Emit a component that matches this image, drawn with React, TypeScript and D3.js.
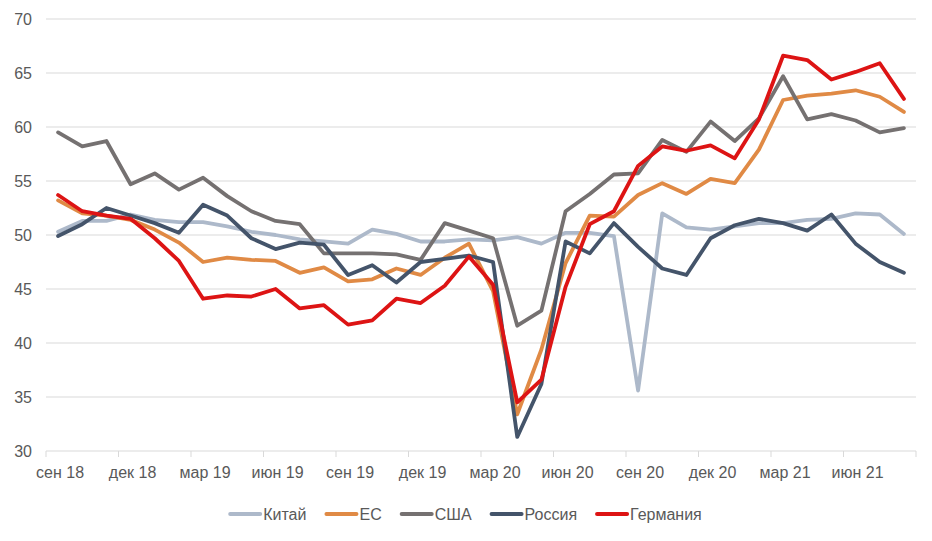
import React, { useEffect, useRef } from "react";
import * as d3 from "d3";

const months = [
  "сен 18", "окт 18", "ноя 18", "дек 18", "янв 19", "фев 19", "мар 19", "апр 19", "май 19",
  "июн 19", "июл 19", "авг 19", "сен 19", "окт 19", "ноя 19", "дек 19", "янв 20", "фев 20",
  "мар 20", "апр 20", "май 20", "июн 20", "июл 20", "авг 20", "сен 20", "окт 20", "ноя 20",
  "дек 20", "янв 21", "фев 21", "мар 21", "апр 21", "май 21", "июн 21", "июл 21", "авг 21",
];

const china = [
  50.3, 51.3, 51.3, 51.9, 51.4, 51.2, 51.2, 50.8, 50.3, 50.0, 49.6, 49.4, 49.2, 50.5, 50.1, 49.4, 49.4, 49.6,
  49.5, 49.8, 49.2, 50.2, 50.2, 49.9, 35.6, 52.0, 50.7, 50.5, 50.8, 51.1, 51.1, 51.4, 51.5, 52.0, 51.9, 50.1,
];
const eu = [
  53.2, 52.0, 51.8, 51.4, 50.5, 49.3, 47.5, 47.9, 47.7, 47.6, 46.5, 47.0, 45.7, 45.9, 46.9, 46.3, 47.9, 49.2,
  44.8, 33.4, 39.4, 47.4, 51.8, 51.7, 53.7, 54.8, 53.8, 55.2, 54.8, 57.9, 62.5, 62.9, 63.1, 63.4, 62.8, 61.4,
];
const usa = [
  59.5, 58.2, 58.7, 54.7, 55.7, 54.2, 55.3, 53.6, 52.2, 51.3, 51.0, 48.3, 48.3, 48.3, 48.2, 47.7, 51.1, 50.4,
  49.7, 41.6, 43.0, 52.2, 53.8, 55.6, 55.7, 58.8, 57.7, 60.5, 58.7, 60.8, 64.7, 60.7, 61.2, 60.6, 59.5, 59.9,
];
const russia = [
  49.9, 51.0, 52.5, 51.8, 51.1, 50.2, 52.8, 51.8, 49.7, 48.7, 49.3, 49.1, 46.3, 47.2, 45.6, 47.5, 47.8, 48.1,
  47.5, 31.3, 36.2, 49.4, 48.3, 51.1, 48.9, 46.9, 46.3, 49.7, 50.9, 51.5, 51.1, 50.4, 51.9, 49.2, 47.5, 46.5,
];
const germany = [
  53.7, 52.2, 51.8, 51.5, 49.7, 47.6, 44.1, 44.4, 44.3, 45.0, 43.2, 43.5, 41.7, 42.1, 44.1, 43.7, 45.3, 48.0,
  45.4, 34.5, 36.6, 45.2, 51.0, 52.2, 56.4, 58.2, 57.8, 58.3, 57.1, 60.7, 66.6, 66.2, 64.4, 65.1, 65.9, 62.6,
];

const seriesNames = ["Китай", "ЕС", "США", "Россия", "Германия"];
const seriesValues = [china, eu, usa, russia, germany];
const seriesColors = ["#adb9ca", "#e08a45", "#757171", "#44546a", "#dd1414"];

const yTicks = [30, 35, 40, 45, 50, 55, 60, 65, 70];

const W = 932;
const H = 541;
const FONT = "'Liberation Sans', Arial, sans-serif";

const App: React.FC = () => {
  const svgRef = useRef<SVGSVGElement>(null);

  useEffect(() => {
    if (!svgRef.current) return;
    const svg = d3.select(svgRef.current);
    svg.selectAll("*").remove();

    const left = 46, right = 916, top = 19, bottom = 451;

    const x = d3.scaleBand<string>().domain(months).range([left, right]).padding(0);
    const y = d3.scaleLinear().domain([30, 70]).range([bottom, top]);
    const cx = (m: string) => (x(m) ?? 0) + x.bandwidth() / 2;

    // gridlines
    svg.append("g")
      .selectAll("line")
      .data(yTicks.filter(t => t > 30))
      .join("line")
      .attr("x1", left)
      .attr("x2", right)
      .attr("y1", d => y(d))
      .attr("y2", d => y(d))
      .attr("stroke", "#d9d9d9")
      .attr("stroke-width", 1);

    // y labels
    svg.append("g")
      .selectAll("text")
      .data(yTicks)
      .join("text")
      .attr("x", 32)
      .attr("y", d => y(d))
      .attr("dy", "0.35em")
      .attr("text-anchor", "end")
      .attr("fill", "#595959")
      .style("font-family", FONT)
      .style("font-size", "16px")
      .text(d => d);

    // x axis line + ticks
    svg.append("line")
      .attr("x1", left)
      .attr("x2", right)
      .attr("y1", bottom)
      .attr("y2", bottom)
      .attr("stroke", "#d9d9d9");

    const labelled = months.filter((_, i) => i % 3 === 0);
    const tickXs = labelled.map(m => x(m) ?? 0).concat([right]);
    svg.append("g")
      .selectAll("line")
      .data(tickXs)
      .join("line")
      .attr("x1", d => d)
      .attr("x2", d => d)
      .attr("y1", bottom)
      .attr("y2", bottom + 6)
      .attr("stroke", "#d9d9d9");

    svg.append("g")
      .selectAll("text")
      .data(labelled)
      .join("text")
      .attr("x", d => cx(d) + 2)
      .attr("y", 472)
      .attr("dy", "0.35em")
      .attr("text-anchor", "middle")
      .attr("fill", "#595959")
      .style("font-family", FONT)
      .style("font-size", "16px")
      .text(d => d);

    // lines
    const line = d3.line<number>()
      .x((_, i) => cx(months[i]))
      .y(d => y(d));

    seriesValues.forEach((vals, k) => {
      svg.append("path")
        .attr("d", line(vals) ?? "")
        .attr("fill", "none")
        .attr("stroke", seriesColors[k])
        .attr("stroke-width", 3.8)
        .attr("stroke-linejoin", "round")
        .attr("stroke-linecap", "round");
    });

    // legend
    const lg = svg.append("g");
    const items = seriesNames.map((name, k) => {
      const g = lg.append("g");
      g.append("line")
        .attr("x1", 0)
        .attr("x2", 30)
        .attr("y1", 0)
        .attr("y2", 0)
        .attr("stroke", seriesColors[k])
        .attr("stroke-width", 4)
        .attr("stroke-linecap", "round");
      const t = g.append("text")
        .attr("x", 33)
        .attr("y", 0)
        .attr("dy", "0.35em")
        .attr("fill", "#595959")
        .style("font-family", FONT)
        .style("font-size", "16px")
        .text(name);
      const w = 33 + (t.node() as SVGTextElement).getComputedTextLength();
      return { g, w };
    });
    const gap = 20;
    const total = d3.sum(items, d => d.w) + gap * (items.length - 1);
    let pos = W / 2 - total / 2;
    items.forEach(it => {
      it.g.attr("transform", `translate(${pos},514)`);
      pos += it.w + gap;
    });
  }, []);

  return (
    <svg
      ref={svgRef}
      width={W}
      height={H}
      style={{ position: "absolute", left: 0, top: 0, background: "#fff" }}
    />
  );
};

export default App;
